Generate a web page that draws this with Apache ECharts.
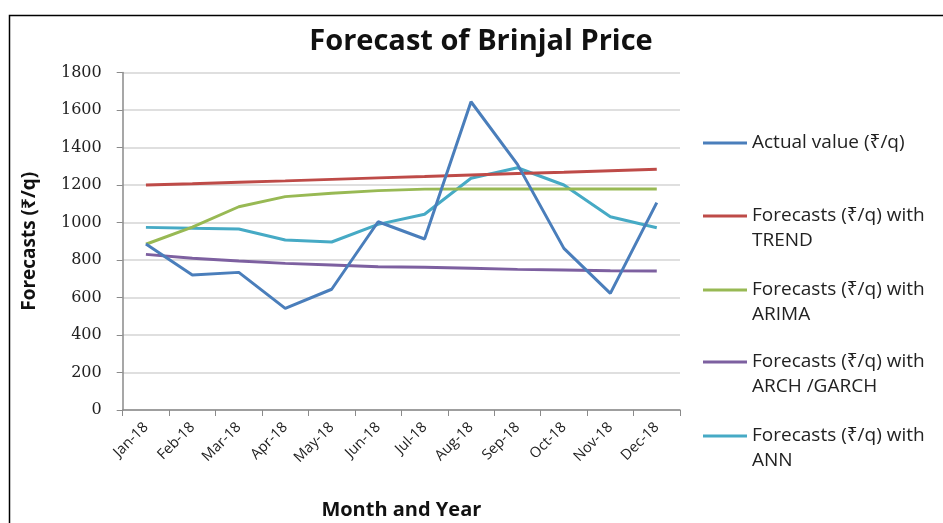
<!DOCTYPE html>
<html>
<head>
<meta charset="utf-8">
<script src="https://cdn.jsdelivr.net/npm/echarts@6/dist/echarts.min.js"></script>
<style>
  html, body { margin: 0; padding: 0; background: #fff; }
  #chart { width: 943px; height: 523px; }
</style>
</head>
<body>
<div id="chart"></div>
<script>
// months on the x axis
var months = ['Jan-18', 'Feb-18', 'Mar-18', 'Apr-18', 'May-18', 'Jun-18',
              'Jul-18', 'Aug-18', 'Sep-18', 'Oct-18', 'Nov-18', 'Dec-18'];

// values (Rs/q)
var actual = [885, 720, 734, 542, 644, 1004, 912, 1644, 1310, 862, 622, 1106];
var trend  = [1200, 1207, 1215, 1222, 1230, 1238, 1245, 1253, 1261, 1268, 1276, 1284];
var arima  = [884, 975, 1084, 1138, 1156, 1170, 1178, 1179, 1179, 1179, 1179, 1179];
var garch  = [830, 809, 795, 782, 773, 764, 761, 756, 750, 747, 743, 741];
var ann    = [974, 969, 965, 907, 896, 990, 1044, 1236, 1292, 1200, 1031, 972];

var yTicks = [0, 200, 400, 600, 800, 1000, 1200, 1400, 1600, 1800];

var names = [
    'Actual value (\u20B9/q)',
    'Forecasts (\u20B9/q) with\nTREND',
    'Forecasts (\u20B9/q) with\nARIMA',
    'Forecasts (\u20B9/q) with\nARCH /GARCH',
    'Forecasts (\u20B9/q) with\nANN'
];
var colors = ['#4A7EBB', '#BE4B48', '#98B954', '#7D60A0', '#46AAC5'];

var FONT = '"Open Sans", "Noto Sans", "DejaVu Sans", sans-serif';

// one legend per item so the icon sits on the first text line
function legendAt(i, iconY) {
    var twoLines = names[i].indexOf('\n') >= 0;
    return {
        show: true,
        left: 703,
        top: twoLines ? iconY - 37.5 : iconY - 12.5,
        orient: 'vertical',
        data: [names[i]],
        icon: 'rect',
        itemWidth: 44,
        itemHeight: 3,
        itemGap: 0,
        padding: 0,
        selectedMode: false,
        formatter: function (n) { return n.indexOf('\n') >= 0 ? '\n' + n : n; },
        textStyle: {
            fontFamily: FONT,
            fontSize: 19,
            color: '#222',
            lineHeight: 25
        }
    };
}

var chart = echarts.init(document.getElementById('chart'));
var series = [actual, trend, arima, garch, ann].map(function (d, i) {
    return {
        name: names[i],
        type: 'line',
        data: d,
        symbol: 'none',
        lineStyle: { width: 3, color: colors[i] },
        itemStyle: { color: colors[i] },
        z: 10 - i
    };
});

chart.setOption({
    backgroundColor: '#fff',
    animation: false,
    title: {
        text: 'Forecast of Brinjal Price',
        left: 476,
        textAlign: 'center',
        top: 22,
        textStyle: { fontFamily: FONT, fontSize: 29, fontWeight: 'bold', color: '#111' }
    },
    graphic: [{
        type: 'rect',
        shape: { x: 9.5, y: 15.5, width: 1000, height: 600 },
        style: { fill: 'none', stroke: '#000', lineWidth: 1.5 },
        silent: true
    }],
    legend: [
        legendAt(0, 143),
        legendAt(1, 216),
        legendAt(2, 290),
        legendAt(3, 362),
        legendAt(4, 436)
    ],
    grid: { left: 122.7, right: 263, top: 72.5, bottom: 113, outerBoundsMode: 'none', containLabel: false },
    xAxis: {
        type: 'category',
        data: months,
        boundaryGap: true,
        name: 'Month and Year',
        nameLocation: 'middle',
        nameGap: 90,
        nameTextStyle: { fontFamily: FONT, fontSize: 20, fontWeight: 'bold', color: '#111' },
        axisLine: { lineStyle: { color: '#8a8a8a', width: 1.5 } },
        axisTick: { show: true, alignWithLabel: false, length: 6, lineStyle: { color: '#8a8a8a' } },
        axisLabel: {
            rotate: 45,
            interval: 0,
            margin: 15,
            fontFamily: FONT,
            fontSize: 14.5,
            color: '#222'
        }
    },
    yAxis: {
        type: 'value',
        min: 0,
        max: yTicks[yTicks.length - 1],
        interval: yTicks[1] - yTicks[0],
        name: 'Forecasts (\u20B9/q)',
        nameLocation: 'middle',
        nameRotate: 90,
        nameGap: 84,
        nameTextStyle: { fontFamily: FONT, fontSize: 19, fontWeight: 'bold', color: '#111' },
        axisLine: { show: true, lineStyle: { color: '#8a8a8a', width: 1.5 } },
        axisTick: { show: true, length: 6, lineStyle: { color: '#8a8a8a' } },
        splitLine: { lineStyle: { color: '#d4d4d4', width: 1.5 } },
        axisLabel: {
            margin: 21,
            padding: [4, 0, 0, 0],
            fontFamily: '"DejaVu Serif", serif',
            fontSize: 16,
            color: '#222',
            formatter: function (v) { return String(v); }
        }
    },
    series: series
});
</script>
</body>
</html>
